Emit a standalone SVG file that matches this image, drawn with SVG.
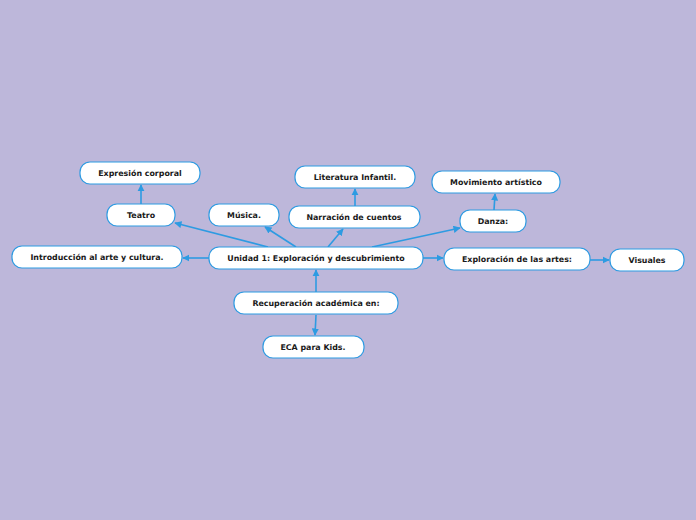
<svg xmlns="http://www.w3.org/2000/svg" width="696" height="520" viewBox="0 0 696 520">
<defs>
<style>
.n rect{fill:#fff;stroke:#2d9be2;stroke-width:1.2}
.n text{font-family:"DejaVu Sans",Verdana,sans-serif;font-weight:bold;font-size:7.9px;fill:#1a1a1a;text-anchor:middle;dominant-baseline:central}
.c line{stroke:#2d9be2;stroke-width:1.6;marker-end:url(#a)}
</style>
<marker id="a" viewBox="0 0 10 10" refX="9" refY="5" markerWidth="4.5" markerHeight="4.5" orient="auto" markerUnits="strokeWidth">
<path d="M0,0 L10,5 L0,10 z" fill="#2d9be2"/>
</marker>
</defs>
<rect width="696" height="520" fill="#bdb7da"/>
<g class="c">
<line x1="268" y1="247" x2="175" y2="223"/>
<line x1="296" y1="247" x2="265" y2="227"/>
<line x1="328" y1="247" x2="343" y2="229"/>
<line x1="372" y1="247" x2="460" y2="228"/>
<line x1="209" y1="258" x2="183" y2="258"/>
<line x1="423" y1="258" x2="443" y2="258"/>
<line x1="590" y1="260" x2="609" y2="260"/>
<line x1="316" y1="292" x2="316" y2="270"/>
<line x1="316" y1="315" x2="315" y2="335"/>
<line x1="141" y1="204" x2="141" y2="185"/>
<line x1="355" y1="206" x2="355" y2="189"/>
<line x1="494" y1="210" x2="495" y2="194"/>
</g>
<g id="expresion" class="n"><rect x="80" y="162" width="120" height="22" rx="10"/><text x="140" y="173">Expresión corporal</text></g>
<g id="teatro" class="n"><rect x="107" y="204" width="68" height="22" rx="10"/><text x="141" y="215">Teatro</text></g>
<g id="introduccion" class="n"><rect x="12" y="246" width="170" height="22" rx="10"/><text x="97" y="257">Introducción al arte y cultura.</text></g>
<g id="musica" class="n"><rect x="209" y="204" width="70" height="22" rx="10"/><text x="244" y="215">Música.</text></g>
<g id="unidad" class="n"><rect x="209" y="247" width="214" height="22" rx="10"/><text x="316" y="258">Unidad 1: Exploración y descubrimiento</text></g>
<g id="literatura" class="n"><rect x="295" y="166" width="120" height="22" rx="10"/><text x="355" y="177">Literatura Infantil.</text></g>
<g id="narracion" class="n"><rect x="289" y="206" width="131" height="22" rx="10"/><text x="354" y="217">Narración de cuentos</text></g>
<g id="movimiento" class="n"><rect x="432" y="171" width="128" height="22" rx="10"/><text x="496" y="182">Movimiento artístico</text></g>
<g id="danza" class="n"><rect x="460" y="210" width="66" height="22" rx="10"/><text x="493" y="221">Danza:</text></g>
<g id="exploracion" class="n"><rect x="444" y="248" width="146" height="22" rx="10"/><text x="517" y="259">Exploración de las artes:</text></g>
<g id="visuales" class="n"><rect x="610" y="249" width="74" height="22" rx="10"/><text x="647" y="260">Visuales</text></g>
<g id="recuperacion" class="n"><rect x="234" y="292" width="164" height="22" rx="10"/><text x="316" y="303">Recuperación académica en:</text></g>
<g id="eca" class="n"><rect x="263" y="336" width="101" height="22" rx="10"/><text x="313" y="347">ECA para Kids.</text></g>
</svg>
